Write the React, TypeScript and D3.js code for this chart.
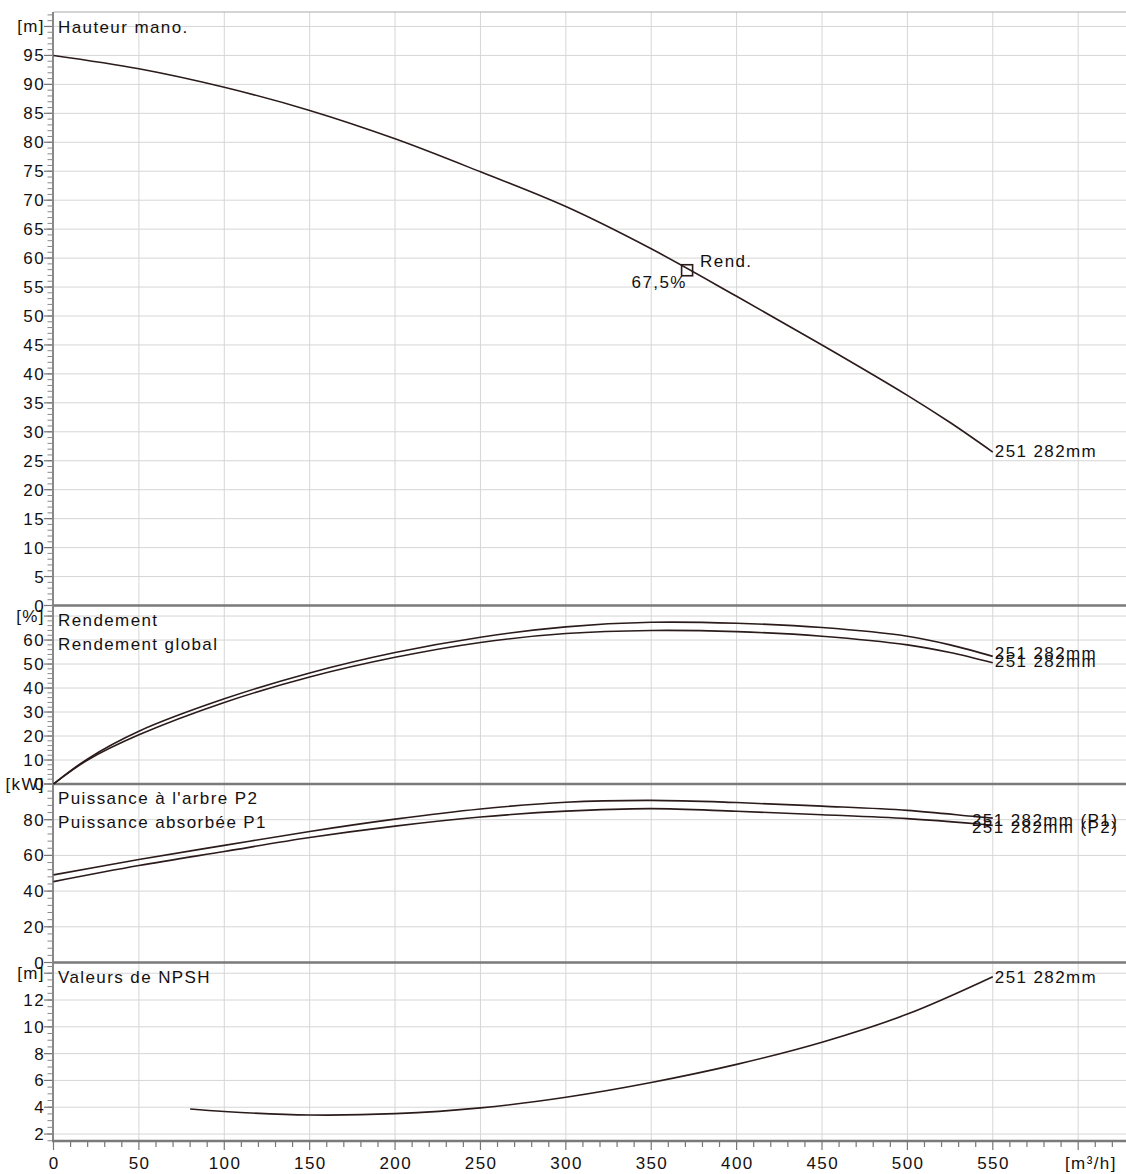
import React, { useEffect, useRef } from 'react';
import * as d3 from 'd3';

// débit [m³/h]
const flowTicks = [0, 50, 100, 150, 200, 250, 300, 350, 400, 450, 500, 550];

// Hauteur mano. [m]
const headQ = [0, 50, 100, 150, 200, 250, 300, 350, 400, 450, 500, 525, 550];
const headH = [95.0, 92.7, 89.5, 85.5, 80.6, 74.9, 68.9, 61.6, 53.4, 45.0, 36.3, 31.6, 26.5];

// Rendement [%]
const effQ = [0, 20, 50, 100, 150, 200, 250, 300, 350, 400, 450, 500, 525, 550];
const effPump = [0, 10.5, 22.0, 35.5, 46.3, 54.8, 61.2, 65.5, 67.4, 67.0, 65.2, 61.6, 58.0, 53.2];
const effGlobal = [0, 10.0, 20.5, 34.0, 44.6, 52.8, 59.0, 62.7, 64.0, 63.5, 61.6, 58.0, 54.8, 50.5];

// Puissance [kW]
const powQ = [0, 50, 100, 150, 200, 250, 300, 350, 400, 450, 500, 540, 550];
const powP1 = [49.1, 57.7, 65.6, 73.4, 80.3, 86.0, 89.8, 90.8, 89.6, 87.6, 85.2, 81.7, 80.9];
const powP2 = [45.3, 54.3, 62.2, 70.0, 76.4, 81.5, 84.8, 86.2, 84.7, 82.8, 80.6, 77.7, 76.8];

// NPSH [m]
const npshQ = [80, 100, 150, 200, 250, 300, 350, 400, 450, 500, 550];
const npshH = [3.87, 3.68, 3.42, 3.52, 3.95, 4.75, 5.85, 7.2, 8.85, 10.95, 13.74];

// point de rendement
const bepQ = 371;
const bepH = 57.9;
const bepLabel = '67,5%';

const headTicks = d3.range(0, 101, 5);
const effTicks = [0, 10, 20, 30, 40, 50, 60, 70];
const powTicks = [0, 20, 40, 60, 80, 100];
const npshTicks = [2, 4, 6, 8, 10, 12, 14];

const App = () => {
    const svgRef = useRef<SVGSVGElement>(null);

    useEffect(() => {
        const width = 1126;
        const height = 1174;
        const left = 53.5;
        const right = 1126;
        const font = '"Liberation Sans", Arial, sans-serif';
        const ink = '#2b1b1b';

        const svg = d3.select(svgRef.current);
        svg.selectAll('*').remove();
        svg.attr('width', width).attr('height', height);

        const x = d3.scaleLinear().domain([0, 628]).range([left, right]);

        const panels = [
            { y: d3.scaleLinear().domain([0, 102.5]).range([605.5, 12]), ticks: headTicks, minor: d3.range(0, 103, 1), unit: '[m]' },
            { y: d3.scaleLinear().domain([0, 74.4]).range([784, 605.5]), ticks: effTicks, minor: d3.range(0, 74, 2), unit: '[%]' },
            { y: d3.scaleLinear().domain([0, 100]).range([962.5, 784]), ticks: powTicks, minor: d3.range(0, 100, 4), unit: '[kW]' },
            { y: d3.scaleLinear().domain([1.48, 14.8]).range([1141, 962.5]), ticks: npshTicks, minor: d3.range(1.5, 14.8, 0.5), unit: '[m]' },
        ];

        const text = (g, str, tx, ty, anchor = 'start') =>
            g.append('text')
                .attr('x', tx)
                .attr('y', ty)
                .attr('text-anchor', anchor)
                .style('font-family', font)
                .style('font-size', '17px')
                .style('letter-spacing', '1.4px')
                .style('fill', '#151010')
                .text(str);

        // grille verticale
        svg.append('g')
            .selectAll('line')
            .data(d3.range(50, 601, 50))
            .enter()
            .append('line')
            .attr('x1', d => x(d)).attr('x2', d => x(d))
            .attr('y1', 12).attr('y2', 1141)
            .attr('stroke', '#d6d6d6')
            .attr('stroke-width', 1);

        // grille horizontale + graduations
        panels.forEach(p => {
            const [lo, hi] = p.y.range();
            const g = svg.append('g');

            g.selectAll('.grid')
                .data(p.ticks.filter(t => p.y(t) < lo - 2 && p.y(t) > hi + 2))
                .enter()
                .append('line')
                .attr('x1', left).attr('x2', right)
                .attr('y1', d => p.y(d)).attr('y2', d => p.y(d))
                .attr('stroke', '#d6d6d6')
                .attr('stroke-width', 1);

            g.selectAll('.minor')
                .data(p.minor)
                .enter()
                .append('line')
                .attr('x1', 47.5).attr('x2', left)
                .attr('y1', d => p.y(d)).attr('y2', d => p.y(d))
                .attr('stroke', '#888')
                .attr('stroke-width', 1);

            g.selectAll('.major')
                .data(p.ticks)
                .enter()
                .append('line')
                .attr('x1', 44).attr('x2', left)
                .attr('y1', d => p.y(d)).attr('y2', d => p.y(d))
                .attr('stroke', '#777')
                .attr('stroke-width', 1.2);

            const top = p.ticks[p.ticks.length - 1];
            p.ticks.slice(0, -1).forEach(t => {
                text(g, String(t), 45, p.y(t) + 6, 'end');
            });
            text(g, p.unit, 45, p.y(top) + 6, 'end');
        });

        // cadre
        svg.append('line')
            .attr('x1', left).attr('x2', right).attr('y1', 12).attr('y2', 12)
            .attr('stroke', '#aaa').attr('stroke-width', 1);
        svg.append('line')
            .attr('x1', left - 0.5).attr('x2', left - 0.5).attr('y1', 12).attr('y2', 1141)
            .attr('stroke', '#888').attr('stroke-width', 2);
        [605.5, 784, 962.5].forEach(sy => {
            svg.append('line')
                .attr('x1', left).attr('x2', right).attr('y1', sy).attr('y2', sy)
                .attr('stroke', '#7a7a7a').attr('stroke-width', 2.5);
        });
        svg.append('line')
            .attr('x1', left - 1.5).attr('x2', right).attr('y1', 1141).attr('y2', 1141)
            .attr('stroke', '#7a7a7a').attr('stroke-width', 2.5);

        // axe des débits
        const xAxis = svg.append('g');
        xAxis.selectAll('.xminor')
            .data(d3.range(0, 628, 10))
            .enter()
            .append('line')
            .attr('x1', d => x(d)).attr('x2', d => x(d))
            .attr('y1', 1141).attr('y2', d => (d % 50 === 0 ? 1150 : 1147))
            .attr('stroke', '#777')
            .attr('stroke-width', 1.2);
        flowTicks.forEach(t => text(xAxis, String(t), x(t) + 0.7, 1169, 'middle'));
        text(xAxis, '[m³/h]', 1065, 1169);

        // courbes
        const drawCurve = (qs, vs, y) => {
            const line = d3.line<number>()
                .x((d, i) => x(qs[i]))
                .y(d => y(d))
                .curve(d3.curveCatmullRom.alpha(0.5));
            svg.append('path')
                .attr('d', line(vs))
                .attr('fill', 'none')
                .attr('stroke', ink)
                .attr('stroke-width', 1.6);
        };

        const [p1, p2, p3, p4] = panels;
        drawCurve(headQ, headH, p1.y);
        drawCurve(effQ, effPump, p2.y);
        drawCurve(effQ, effGlobal, p2.y);
        drawCurve(powQ, powP1, p3.y);
        drawCurve(powQ, powP2, p3.y);
        drawCurve(npshQ, npshH, p4.y);

        // titres
        text(svg, 'Hauteur mano.', 58, 32.5);
        text(svg, 'Rendement', 58, 626);
        text(svg, 'Rendement global', 58, 650);
        text(svg, "Puissance à l'arbre P2", 58, 804);
        text(svg, 'Puissance absorbée P1', 58, 828);
        text(svg, 'Valeurs de NPSH', 58, 983);

        // étiquettes en fin de courbe
        const last = a => a[a.length - 1];
        text(svg, '251 282mm', x(last(headQ)) + 2, p1.y(last(headH)) + 5);
        text(svg, '251 282mm', x(last(effQ)) + 2, p2.y(last(effPump)) + 3);
        text(svg, '251 282mm', x(last(effQ)) + 2, p2.y(last(effGlobal)) + 4);
        text(svg, '251 282mm (P1)', 972, p3.y(last(powP1)) + 8);
        text(svg, '251 282mm (P2)', 972, p3.y(last(powP2)) + 8);
        text(svg, '251 282mm', x(last(npshQ)) + 2, p4.y(last(npshH)) + 6);

        // point de fonctionnement
        const bx = x(bepQ);
        const by = p1.y(bepH);
        svg.append('rect')
            .attr('x', bx - 5.5).attr('y', by - 5.5)
            .attr('width', 11).attr('height', 11)
            .attr('fill', 'none')
            .attr('stroke', ink)
            .attr('stroke-width', 1.6);
        text(svg, 'Rend.', bx + 13, by - 3.5);
        text(svg, bepLabel, bx - 55.5, by + 17.5);
    }, []);

    return <svg ref={svgRef} style={{ position: 'absolute', left: 0, top: 0, display: 'block' }}></svg>;
};

export default App;
